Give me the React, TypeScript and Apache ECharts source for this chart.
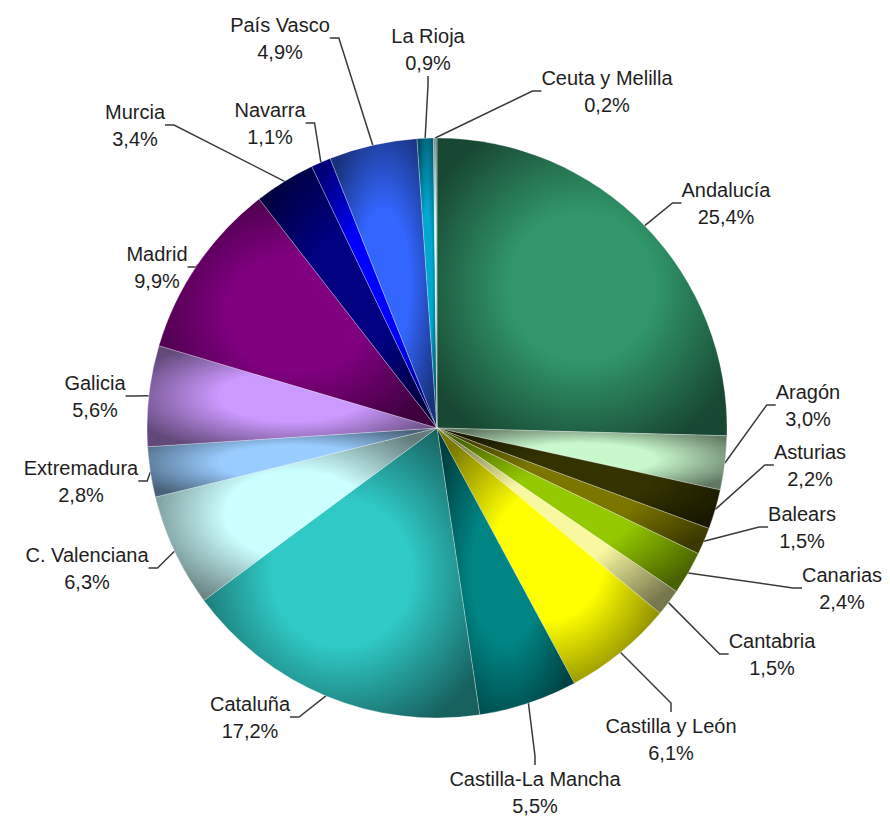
import React, { useEffect, useRef } from "react";
import * as echarts from "echarts";

const categories = [
  "Andalucía", "Aragón", "Asturias", "Balears", "Canarias", "Cantabria",
  "Castilla y León", "Castilla-La Mancha", "Cataluña", "C. Valenciana",
  "Extremadura", "Galicia", "Madrid", "Murcia", "Navarra", "País Vasco",
  "La Rioja", "Ceuta y Melilla",
];
const shares = [25.4, 3.0, 2.2, 1.5, 2.4, 1.5, 6.1, 5.5, 17.2, 6.3, 2.8, 5.6, 9.9, 3.4, 1.1, 4.9, 0.9, 0.2];
const sliceColors = [
  "#31966A", "#C8F8CC", "#333300", "#7A7600", "#94C800", "#F8F8A0",
  "#FFFF00", "#008484", "#30CAC6", "#CCFFFF", "#99CCFF", "#CC99FF",
  "#800080", "#000080", "#0000FF", "#3366FF", "#00A8D0", "#CCFFFF",
];
// label block centres (px) — annotation placement only
const labelSpots: [number, number][] = [
  [726, 203], [808, 405], [810, 465], [802, 527], [842, 588], [772, 654],
  [671, 739], [535, 792], [250, 717], [87, 568], [81, 481], [95, 396],
  [157, 267], [135, 125], [270, 123], [280, 38], [428, 49], [607, 91],
];

function darken(hex: string, f: number): string {
  const n = parseInt(hex.slice(1), 16);
  const r = Math.round(((n >> 16) & 255) * f);
  const g = Math.round(((n >> 8) & 255) * f);
  const b = Math.round((n & 255) * f);
  return `rgb(${r},${g},${b})`;
}

export default function App() {
  const ref = useRef<HTMLDivElement>(null);
  useEffect(() => {
    document.body.style.margin = "0";
    if (!ref.current) return;
    const chart = echarts.init(ref.current, undefined, { renderer: "svg" });
    const data = categories.map((name, i) => ({
      name,
      value: shares[i],
      itemStyle: {
        color: new echarts.graphic.RadialGradient(0.5, 0.5, 0.6, [
          { offset: 0, color: sliceColors[i] },
          { offset: 0.42, color: sliceColors[i] },
          { offset: 1, color: darken(sliceColors[i], 0.48) },
        ]),
      },
    }));
    chart.setOption({
      animation: false,
      backgroundColor: "#ffffff",
      series: [
        {
          type: "pie",
          center: [437, 428],
          radius: 290,
          startAngle: 90,
          clockwise: true,
          avoidLabelOverlap: false,
          emphasis: { disabled: true },
          itemStyle: { borderColor: "rgba(255,255,255,0.35)", borderWidth: 0.8 },
          label: {
            show: true,
            position: "outside",
            fontFamily: "Liberation Sans, Arial, sans-serif",
            fontSize: 20,
            lineHeight: 27,
            color: "#1e1e1e",
            align: "center",
            formatter: (p: any) => `${p.name}\n${(p.value as number).toFixed(1).replace(".", ",")}%`,
          },
          labelLine: {
            show: true,
            length: 10,
            length2: 9,
            smooth: false,
            lineStyle: { color: "#3a3a3a", width: 1.5 },
          },
          labelLayout: (params: any) => {
            const spot = labelSpots[params.dataIndex];
            return { x: spot[0], y: spot[1], align: "center", verticalAlign: "middle" };
          },
          data,
        },
      ],
    });
    return () => chart.dispose();
  }, []);
  return <div ref={ref} style={{ width: 890, height: 818 }} />;
}
